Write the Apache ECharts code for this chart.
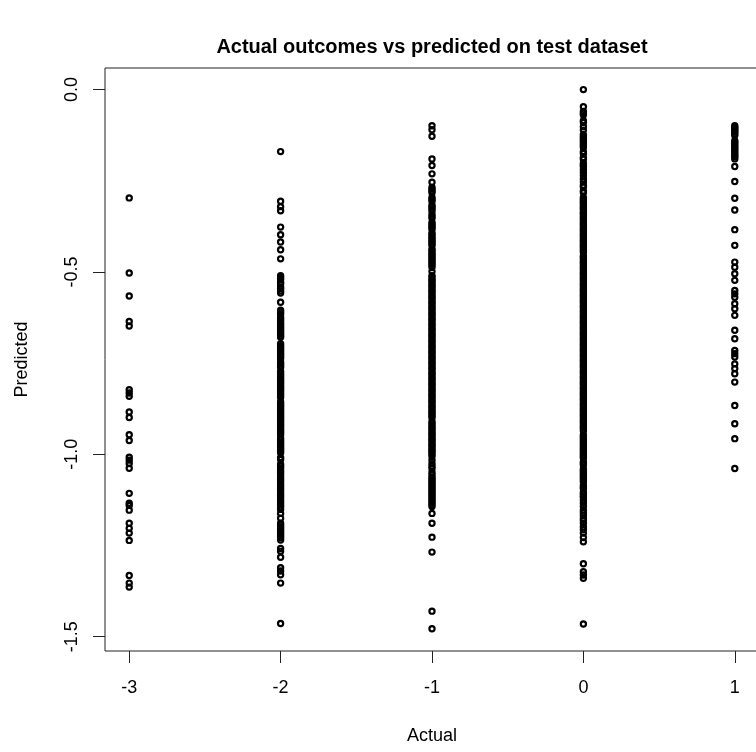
<!DOCTYPE html>
<html><head><meta charset="utf-8">
<script src="https://cdn.jsdelivr.net/npm/echarts@6/dist/echarts.min.js"></script>
<style>html,body{margin:0;padding:0;background:#fff}#c{width:756px;height:752px}</style>
</head><body><div id="c"></div>
<script>
const xTicks = [-3, -2, -1, 0, 1];
const yTicks = [0, -0.5, -1, -1.5];
const actualCategories = [-3, -2, -1, 0, 1];

const predictedM3 = [-0.297, -0.503, -0.566, -0.636, -0.648, -0.823, -0.832, -0.841, -0.884, -0.899,
  -0.946, -0.962, -1.008, -1.016, -1.025, -1.038, -1.107, -1.134, -1.140, -1.153,
  -1.189, -1.203, -1.216, -1.236, -1.332, -1.353, -1.364];

const predictedM2 = [-0.170, -0.306, -0.321, -0.332, -0.377, -0.398, -0.418, -0.439, -0.464,
  -0.510, -0.515, -0.520, -0.528, -0.533, -0.541, -0.546, -0.552, -0.558,
  -0.583,
  -0.605, -0.610, -0.615, -0.624, -0.629, -0.634, -0.640, -0.645, -0.650, -0.655, -0.660, -0.665, -0.670, -0.675, -0.679,
  -0.697, -0.702, -0.707, -0.712, -0.717, -0.722, -0.727, -0.732, -0.737, -0.747, -0.752, -0.757, -0.762,
  -0.773, -0.778, -0.783, -0.788, -0.793, -0.798, -0.803, -0.808, -0.813, -0.818, -0.823, -0.828, -0.833,
  -0.838, -0.844, -0.856, -0.861, -0.866, -0.871, -0.876, -0.881, -0.886, -0.891, -0.896, -0.901, -0.906,
  -0.911, -0.916, -0.921, -0.926, -0.931, -0.936, -0.941, -0.946,
  -0.956, -0.961, -0.966, -0.971, -0.976, -0.981, -0.986, -0.991, -0.996, -1.009, -1.014,
  -1.027, -1.032, -1.037, -1.044, -1.050, -1.056, -1.063, -1.069, -1.075, -1.082, -1.088, -1.094,
  -1.100, -1.107, -1.113, -1.119, -1.126, -1.132, -1.138, -1.144, -1.151, -1.162, -1.175,
  -1.189, -1.194, -1.199, -1.204, -1.209, -1.214, -1.219, -1.224, -1.229, -1.235,
  -1.258, -1.266, -1.282, -1.311, -1.320, -1.330, -1.353, -1.464];

const predictedM1 = [-0.099, -0.110, -0.128, -0.190, -0.208, -0.231, -0.254,
  -0.268, -0.273, -0.278, -0.283, -0.296, -0.301, -0.306, -0.317, -0.322, -0.327, -0.333, -0.342,
  -0.348, -0.353, -0.364, -0.369, -0.374, -0.379, -0.383, -0.393, -0.398, -0.403, -0.408, -0.413,
  -0.418, -0.423, -0.427, -0.437, -0.442, -0.447, -0.452, -0.457, -0.462, -0.467, -0.472, -0.477,
  -0.482, -0.488, -0.499, -0.510,
  -0.515, -0.521, -0.525, -0.530, -0.536, -0.540, -0.545, -0.551, -0.555, -0.560, -0.566, -0.570,
  -0.575, -0.581, -0.585, -0.590, -0.596, -0.600, -0.605, -0.611, -0.615, -0.620, -0.626, -0.630,
  -0.635, -0.641, -0.645, -0.650, -0.656, -0.660, -0.665, -0.671, -0.675, -0.680, -0.686, -0.690,
  -0.695, -0.701, -0.705, -0.710, -0.716, -0.720, -0.725, -0.731, -0.735, -0.740, -0.746, -0.750,
  -0.755, -0.761, -0.765, -0.770, -0.776, -0.780, -0.785, -0.791, -0.795, -0.800, -0.806, -0.810,
  -0.815, -0.821, -0.825, -0.830, -0.836, -0.840, -0.845, -0.851, -0.855, -0.860, -0.866, -0.870,
  -0.875, -0.881, -0.885, -0.890, -0.895, -0.900, -0.910, -0.915, -0.920, -0.926, -0.930, -0.935,
  -0.941, -0.945, -0.950, -0.956, -0.960, -0.965, -0.971, -0.975, -0.980, -0.986, -0.990, -0.995,
  -1.000, -1.006, -1.016, -1.026, -1.033, -1.039, -1.049, -1.056, -1.063, -1.068, -1.073, -1.078,
  -1.083, -1.088, -1.093, -1.098, -1.103, -1.108, -1.113, -1.118, -1.123, -1.128, -1.133, -1.138, -1.143,
  -1.162, -1.189, -1.227, -1.268, -1.430, -1.478];

const predicted0 = [0.000, -0.047, -0.060, -0.065, -0.070, -0.085, -0.090, -0.102, -0.111,
  -0.124, -0.129, -0.134, -0.139, -0.144, -0.149, -0.154, -0.159, -0.170, -0.175, -0.186, -0.191,
  -0.202, -0.207, -0.211, -0.219, -0.227, -0.236, -0.245, -0.253, -0.262, -0.267, -0.278, -0.283, -0.296,
  -0.301, -0.306, -0.310, -0.315, -0.321, -0.325, -0.330, -0.336, -0.340, -0.345, -0.351, -0.355,
  -0.360, -0.366, -0.370, -0.375, -0.381, -0.385, -0.390, -0.396, -0.400, -0.405, -0.411, -0.415,
  -0.420, -0.426, -0.430, -0.435, -0.441, -0.446,
  -0.456, -0.460, -0.465, -0.471, -0.475, -0.480, -0.486, -0.490, -0.495, -0.501, -0.505, -0.510,
  -0.516, -0.520, -0.525, -0.531, -0.535, -0.540, -0.546, -0.550, -0.555, -0.561, -0.565, -0.570,
  -0.576, -0.580, -0.585, -0.591, -0.595, -0.600, -0.606, -0.610, -0.615, -0.621, -0.625, -0.630,
  -0.636, -0.640, -0.645, -0.651, -0.655, -0.660, -0.666, -0.670, -0.675, -0.681, -0.685, -0.690,
  -0.696, -0.700, -0.705, -0.711, -0.715, -0.720, -0.726, -0.730, -0.735, -0.741, -0.745, -0.750,
  -0.756, -0.760, -0.765, -0.771, -0.775, -0.780, -0.786, -0.790, -0.795, -0.801, -0.805, -0.810,
  -0.816, -0.820, -0.825, -0.831, -0.835, -0.840, -0.846, -0.850, -0.855, -0.861, -0.865, -0.870,
  -0.876, -0.880, -0.885, -0.891, -0.895, -0.900, -0.906, -0.910, -0.915, -0.921, -0.925, -0.930, -0.936,
  -0.947, -0.951, -0.956, -0.961, -0.966, -0.971, -0.976, -0.981, -0.986, -0.991, -0.996, -1.001, -1.006, -1.010,
  -1.020, -1.025, -1.029, -1.040, -1.045, -1.050, -1.055, -1.060, -1.065, -1.070, -1.075,
  -1.085, -1.090, -1.094, -1.104, -1.109, -1.114, -1.118,
  -1.126, -1.134, -1.143, -1.153, -1.160, -1.167, -1.175, -1.181, -1.189, -1.199, -1.207, -1.216, -1.228, -1.240,
  -1.300, -1.322, -1.331, -1.340, -1.465];

const predicted1 = [-0.099, -0.104, -0.108, -0.112, -0.116, -0.121, -0.126,
  -0.140, -0.145, -0.150, -0.155, -0.160, -0.165, -0.170, -0.175, -0.180, -0.185, -0.190,
  -0.211, -0.252, -0.298, -0.330, -0.384, -0.427, -0.473, -0.487, -0.505, -0.523,
  -0.551, -0.560, -0.569, -0.587, -0.601, -0.619, -0.660, -0.683,
  -0.715, -0.724, -0.733, -0.752, -0.765, -0.779, -0.802, -0.866, -0.916, -0.957, -1.039];

const columns = [predictedM3, predictedM2, predictedM1, predicted0, predicted1];
const points = [];
columns.forEach((col, i) => col.forEach(v => points.push([actualCategories[i], v])));

const FONT = "'Liberation Sans', Arial, sans-serif";
const chart = echarts.init(document.getElementById('c'), null, {renderer: 'canvas'});
chart.setOption({
  animation: false,
  backgroundColor: '#fff',
  title: {
    text: 'Actual outcomes vs predicted on test dataset',
    left: 432, top: 37, textAlign: 'center', padding: 0,
    textStyle: {fontFamily: FONT, fontWeight: 'bold', fontSize: 20, color: '#000'}
  },
  grid: {left: 105, top: 68, width: 654, height: 583, show: true, outerBoundsMode: 'none', containLabel: false,
         borderColor: '#222', borderWidth: 1, backgroundColor: 'transparent'},
  xAxis: {
    type: 'value', min: -3.16, max: 1.16,
    name: 'Actual', nameLocation: 'middle', nameGap: 76,
    nameTextStyle: {fontFamily: FONT, fontSize: 18, color: '#000'},
    axisLine: {show: false, onZero: false},
    axisTick: {show: true, length: 12, customValues: xTicks, lineStyle: {color: '#222', width: 1}},
    axisLabel: {show: true, customValues: xTicks, margin: 28, fontFamily: FONT, fontSize: 18, color: '#000',
                formatter: v => String(v)},
    splitLine: {show: false}
  },
  yAxis: {
    type: 'value', min: -1.5392, max: 0.0592,
    name: 'Predicted', nameLocation: 'middle', nameGap: 74,
    nameTextStyle: {fontFamily: FONT, fontSize: 18, color: '#000'},
    axisLine: {show: false, onZero: false},
    axisTick: {show: true, length: 12, customValues: yTicks, lineStyle: {color: '#222', width: 1}},
    axisLabel: {show: true, customValues: yTicks, margin: 24, rotate: 90, fontFamily: FONT, fontSize: 18, color: '#000',
                formatter: v => Number(v).toFixed(1)},
    splitLine: {show: false}
  },
  series: [{
    type: 'scatter', data: points, symbol: 'circle', symbolSize: 5.2, silent: true,
    large: false, progressive: 0,
    itemStyle: {color: 'rgba(0,0,0,0)', borderColor: '#000', borderWidth: 2.2, opacity: 1}
  }]
});
</script></body></html>
